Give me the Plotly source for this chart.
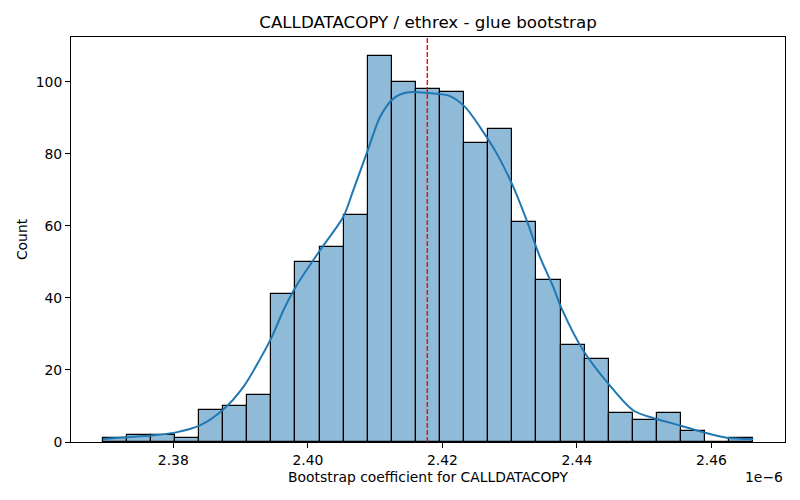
import plotly.graph_objects as go

# histogram (values in units of 1e-6)
bin_start = 2.36951
bin_width = 0.0035815
counts = [1, 2, 2, 1, 9, 10, 13, 41, 50, 54, 63, 107, 100, 98, 97,
          83, 87, 61, 45, 27, 23, 8, 6, 8, 3, 0, 1]

# kde curve
kde_x = [2.36951, 2.37307, 2.37679, 2.38025, 2.38397, 2.38743, 2.39050, 2.39289,
         2.39463, 2.39635, 2.39834, 2.40181, 2.40527, 2.40676, 2.40899, 2.41073,
         2.41270, 2.41469, 2.41767, 2.42113, 2.42336, 2.42559, 2.42807, 2.43054,
         2.43253, 2.43451, 2.43649, 2.43773, 2.44094, 2.44466, 2.44838, 2.45185,
         2.45532, 2.45878, 2.46226, 2.46621]
kde_y = [0.8, 1.3, 1.8, 2.6, 4.6, 9.0, 15.5, 23.0, 29.1, 36.5, 43.5, 53.2, 62.5,
         69.9, 81.4, 90.2, 95.3, 97.0, 96.9, 96.0, 93.0, 87.4, 80.1, 70.8, 61.5,
         51.3, 43.0, 37.0, 25.4, 16.2, 8.75, 6.4, 4.6, 2.7, 1.2, 0.8]

center_value = 2.41776

x_ticks = [2.38, 2.40, 2.42, 2.44, 2.46]
y_ticks = [0, 20, 40, 60, 80, 100]

centers = [bin_start + bin_width * (i + 0.5) for i in range(len(counts))]

fig = go.Figure()
fig.add_trace(go.Bar(x=centers, y=counts, width=bin_width,
                     marker=dict(color='rgba(31,119,180,0.5)',
                                 line=dict(color='black', width=1.2)),
                     hoverinfo='x+y'))
fig.add_trace(go.Scatter(x=kde_x, y=kde_y, mode='lines',
                         line=dict(color='#1f77b4', width=2, shape='spline',
                                   smoothing=0.8)))
fig.add_trace(go.Scatter(x=[center_value, center_value], y=[0, 112.4], mode='lines',
                         line=dict(color='red', width=1.4, dash='5px,2px')))

# page body adds an 8px offset, so margins are shifted to compensate
font = dict(family='DejaVu Sans', size=13.9, color='black')
fig.update_layout(
    width=800, height=500,
    margin=dict(l=63, r=23, t=29, b=66, autoexpand=False),
    plot_bgcolor='white', paper_bgcolor='white',
    showlegend=False, bargap=0, font=font,
    title=dict(text='CALLDATACOPY / ethrex - glue bootstrap', x=0.5, xref='paper',
               xanchor='center', y=1 - 14 / 500, yanchor='middle',
               font=dict(family='DejaVu Sans', size=16.7, color='black')),
    annotations=[dict(text='1e\u22126', xref='paper', yref='paper', x=1, y=-35 / 405,
                      xanchor='right', yanchor='middle', showarrow=False, font=font)],
)
fig.update_xaxes(range=[2.36479, 2.47093], tickvals=x_ticks,
                 ticktext=['%.2f' % t for t in x_ticks], automargin=False,
                 showgrid=False, zeroline=False, showline=True, linecolor='black',
                 linewidth=1, mirror=True, ticks='outside', ticklen=5, tickcolor='black',
                 title=dict(text='Bootstrap coefficient for CALLDATACOPY', standoff=5,
                            font=font))
fig.update_yaxes(range=[0, 112.4], tickvals=y_ticks, automargin=False,
                 showgrid=False, zeroline=False, showline=True, linecolor='black',
                 linewidth=1, mirror=True, ticks='outside', ticklen=5, tickcolor='black',
                 title=dict(text='Count', standoff=4, font=font))

fig.write_html("out.html")
